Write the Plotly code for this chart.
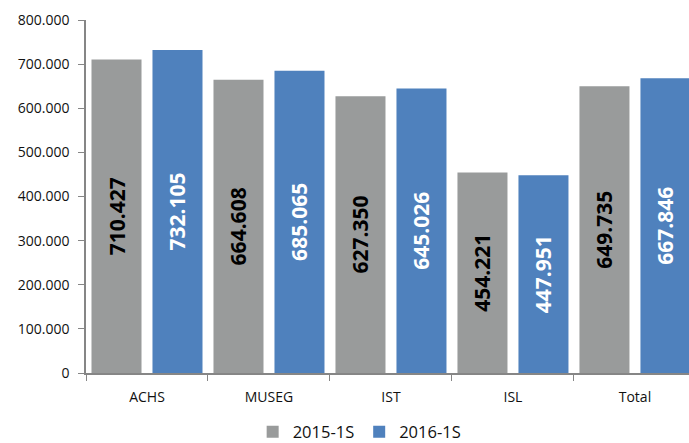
import plotly.graph_objects as go

categories = ["ACHS", "MUSEG", "IST", "ISL", "Total"]
values_2015 = [710427, 664608, 627350, 454221, 649735]
values_2016 = [732105, 685065, 645026, 447951, 667846]
series_names = ["2015-1S", "2016-1S"]
y_ticks = [0, 100000, 200000, 300000, 400000, 500000, 600000, 700000, 800000]

GRAY = "#999b9b"
BLUE = "#4f81bd"
FONT = "Open Sans, Noto Sans, sans-serif"

fig = go.Figure()
for name, vals, color, txtcolor in [
    (series_names[0], values_2015, GRAY, "#000000"),
    (series_names[1], values_2016, BLUE, "#ffffff"),
]:
    fig.add_trace(go.Bar(
        x=categories, y=vals, name=name,
        marker=dict(color=color, line=dict(width=0)),
        texttemplate="%{y:,d}",
        textposition="inside",
        insidetextanchor="middle",
        textangle=-90,
        textfont=dict(family=FONT, size=21, color=txtcolor, weight="bold"),
        hoverinfo="skip",
    ))

fig.update_layout(
    width=689, height=443,
    margin=dict(l=86, r=0, t=20, b=70),
    plot_bgcolor="white", paper_bgcolor="white",
    separators=",.",
    barmode="group",
    bargap=0.0,
    bargroupgap=0.18,
    font=dict(family=FONT, color="#111111"),
    uniformtext=dict(minsize=21, mode="show"),
    showlegend=True,
    legend=dict(
        orientation="h", xref="container", yref="container",
        x=0.522, xanchor="center", y=0.025, yanchor="middle",
        font=dict(size=16.5, family=FONT, color="#111111"),
        itemwidth=30, traceorder="normal",
    ),
    xaxis=dict(
        type="category",
        range=[-0.5, 4.443],
        showline=True, linecolor="#868686", linewidth=1.5,
        ticks="outside", tickson="boundaries", ticklen=6, tickcolor="#868686",
        tickfont=dict(size=14, family=FONT, color="#111111"),
        ticklabelstandoff=10,
        showgrid=False,
    ),
    yaxis=dict(
        range=[0, 800000],
        tickvals=y_ticks,
        tickformat=",d",
        showline=True, linecolor="#868686", linewidth=1.5,
        ticks="outside", ticklen=6, tickcolor="#868686",
        tickfont=dict(size=14, family=FONT, color="#111111"),
        ticklabelstandoff=6,
        showgrid=False, zeroline=False,
    ),
)

fig.write_html("out.html")
